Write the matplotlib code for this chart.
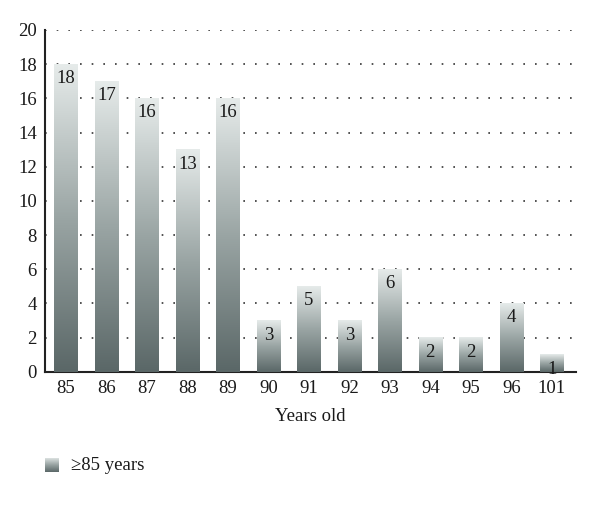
import numpy as np
import matplotlib
matplotlib.use("Agg")
import matplotlib.pyplot as plt
from matplotlib.colors import LinearSegmentedColormap

categories = ["85", "86", "87", "88", "89", "90", "91", "92", "93", "94", "95", "96", "101"]
values = [18, 17, 16, 13, 16, 3, 5, 3, 6, 2, 2, 4, 1]
yticks = [0, 2, 4, 6, 8, 10, 12, 14, 16, 18, 20]
series_name = "\u226585 years"
xlabel = "Years old"

plt.rcParams['font.family'] = ['Liberation Serif', 'DejaVu Serif']

cmap = LinearSegmentedColormap.from_list("g", ["#5a6767", "#9aa5a4", "#e6ebea"])
grad = np.linspace(0, 1, 256).reshape(-1, 1)

fig = plt.figure(figsize=(6.0, 5.08), dpi=100)
ax = fig.add_axes([0.075, 0.268, 0.885, 0.673])

x = np.arange(len(categories))
w = 0.58
bars = ax.bar(x, values, width=w, color="none", edgecolor="none", zorder=3)
for b, v in zip(bars, values):
    x0 = b.get_x()
    ax.imshow(grad, cmap=cmap, origin="lower", aspect="auto",
              extent=(x0, x0 + w, 0, v), zorder=3)
    ax.text(b.get_x() + w / 2, v - 0.35, str(v), ha="center", va="top",
            fontsize=13.5, color="#1a1a1a", zorder=4)

ax.set_xlim(-0.52, len(categories) - 0.4)
ax.set_ylim(0, 20)
ax.set_yticks(yticks)
ax.set_xticks(x)
ax.set_xticklabels(categories)
ax.tick_params(length=0, labelsize=13.5, colors="#1a1a1a", pad=6)
ax.set_xlabel(xlabel, fontsize=13.5, color="#1a1a1a", labelpad=8)
for s in ["top", "right"]:
    ax.spines[s].set_visible(False)
for s in ["left", "bottom"]:
    ax.spines[s].set_linewidth(1.5)
    ax.spines[s].set_color("#222222")
ax.yaxis.grid(True, linestyle=(0, (1, 6)), color="#333333", linewidth=1.2, zorder=0)
ax.set_axisbelow(True)

# legend
lax = fig.add_axes([0.075, 0.07, 0.023, 0.028])
lax.imshow(grad, cmap=cmap, origin="lower", aspect="auto")
lax.axis("off")
fig.text(0.118, 0.084, series_name, fontsize=13.5, color="#1a1a1a", va="center", ha="left")

fig.savefig("out.png", dpi=100)
